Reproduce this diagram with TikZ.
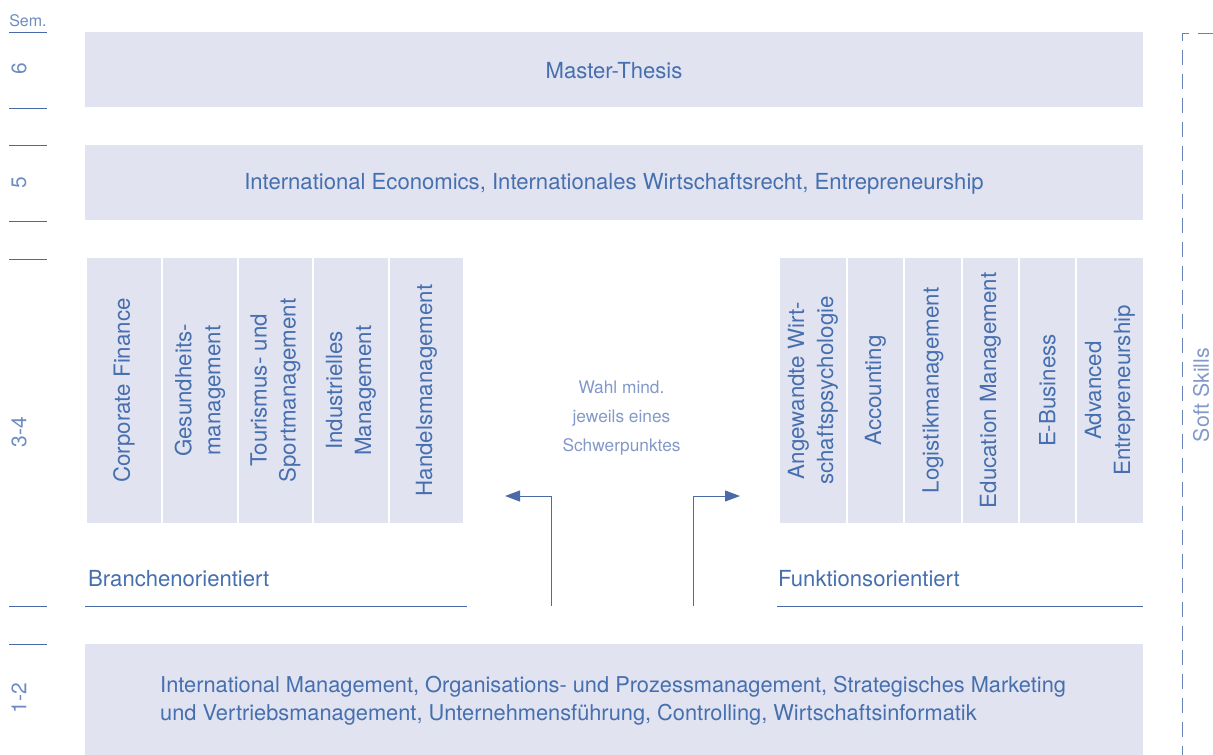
\documentclass[tikz,border=0pt]{standalone}
\usepackage{fontspec}
\setmainfont{TeX Gyre Heros}
\usetikzlibrary{arrows.meta}
\definecolor{boxfill}{HTML}{E1E3F0}
\definecolor{txt}{HTML}{466FAF}
\definecolor{lighttxt}{HTML}{8299C9}
\definecolor{lineblue}{HTML}{4A6BA8}
\definecolor{semtxt}{HTML}{6E8CC4}
\tikzset{
  bar/.style={fill=boxfill, draw=none},
  bartext/.style={text=txt, font=\fontsize{22.1}{28}\selectfont, inner sep=0pt},
  coltext/.style={text=txt, font=\fontsize{22.3}{29}\selectfont, inner sep=0pt, rotate=90, align=center},
  semlabel/.style={text=semtxt, font=\fontsize{21}{24}\selectfont, inner sep=0pt, rotate=90},
  semline/.style={draw=lineblue, line width=0.9pt},
  underl/.style={draw=lineblue, line width=0.9pt},
  flow/.style={draw=lineblue, line width=1pt, -{Triangle[length=15pt,width=11pt]}},
}
\begin{document}
\begin{tikzpicture}[x=1pt,y=-1pt]
\useasboundingbox (0,0) rectangle (1213,755);
% semester labels
\node[text=semtxt, font=\fontsize{16}{18}\selectfont, inner sep=0pt, anchor=base] (sem) at (28,26) {Sem.};
\draw[semline] (9,32) -- (47,32);
\node[semlabel] (s6) at (19,69) {6};
\draw[semline] (9,108) -- (47,108);
\draw[semline] (9,145) -- (47,145);
\node[semlabel] (s5) at (19,183) {5};
\draw[semline] (9,221) -- (47,221);
\draw[semline] (9,259) -- (47,259);
\node[semlabel] (s34) at (19,432) {3-4};
\draw[semline] (9,606) -- (47,606);
\draw[semline] (9,644) -- (47,644);
\node[semlabel] (s12) at (19,698) {1-2};
% top bars
\fill[bar] (85,32) rectangle (1143,107);
\node[bartext] (thesis) at (614,71) {Master-Thesis};
\fill[bar] (85,145) rectangle (1143,220);
\node[bartext] (sem5) at (614,184) {International Economics, Internationales Wirtschaftsrecht, Entrepreneurship};
% left columns
\fill[bar] (87,258) rectangle (161,523);
\fill[bar] (163,258) rectangle (237,523);
\fill[bar] (239,258) rectangle (312,523);
\fill[bar] (314,258) rectangle (388,523);
\fill[bar] (390,258) rectangle (463,523);
\node[coltext] (cf) at (124,390.5) {Corporate Finance};
\node[coltext] (gm) at (200,390.5) {Gesundheits-\\management};
\node[coltext] (ts) at (275.5,390.5) {Tourismus- und\\Sportmanagement};
\node[coltext] (im) at (351,390.5) {Industrielles\\Management};
\node[coltext] (hm) at (426.5,390.5) {Handelsmanagement};
% right columns
\fill[bar] (780,258) rectangle (846,523);
\fill[bar] (848,258) rectangle (903,523);
\fill[bar] (905,258) rectangle (961,523);
\fill[bar] (963,258) rectangle (1018,523);
\fill[bar] (1020,258) rectangle (1075,523);
\fill[bar] (1077,258) rectangle (1143,523);
\node[coltext] (aw) at (813,390.5) {Angewandte Wirt-\\schaftspsychologie};
\node[coltext] (acc) at (875.5,390.5) {Accounting};
\node[coltext] (log) at (933,390.5) {Logistikmanagement};
\node[coltext] (edu) at (990.5,390.5) {Education Management};
\node[coltext] (eb) at (1047.5,390.5) {E-Business};
\node[coltext] (ae) at (1110,390.5) {Advanced\\Entrepreneurship};
% center text
\node[text=lighttxt, font=\fontsize{17.3}{29}\selectfont, align=center, inner sep=0pt] (wahl) at (621.5,418) {Wahl mind.\\jeweils eines\\Schwerpunktes};
% orientation labels
\node[bartext, anchor=base west] (bo) at (88,586) {Branchenorientiert};
\draw[underl] (85,606) -- (467,606);
\node[bartext, anchor=base west] (fo) at (778,586) {Funktionsorientiert};
\draw[underl] (777,606) -- (1143,606);
% arrows
\coordinate (la0) at (551,606);
\coordinate (la1) at (551,496);
\coordinate (la2) at (505,496);
\coordinate (ra0) at (693,606);
\coordinate (ra1) at (693,496);
\coordinate (ra2) at (740,496);
\draw[flow] (la0) -- (la1) -- (la2);
\draw[flow] (ra0) -- (ra1) -- (ra2);
% bottom bar
\fill[bar] (85,644) rectangle (1143,755);
\node[bartext, font=\fontsize{21.8}{28}\selectfont, anchor=west, align=left] (base) at (160,701) {International Management, Organisations- und Prozessmanagement, Strategisches Marketing\\und Vertriebsmanagement, Unternehmensführung, Controlling, Wirtschaftsinformatik};
% soft skills
\draw[draw=lineblue!85, line width=0.9pt, dash pattern=on 15pt off 9pt] (1213,33) -- (1182,33) -- (1182,755);
\node[text=lighttxt, font=\fontsize{21.3}{24}\selectfont, rotate=90, inner sep=0pt] (soft) at (1201,395) {Soft Skills};
\end{tikzpicture}
\end{document}
